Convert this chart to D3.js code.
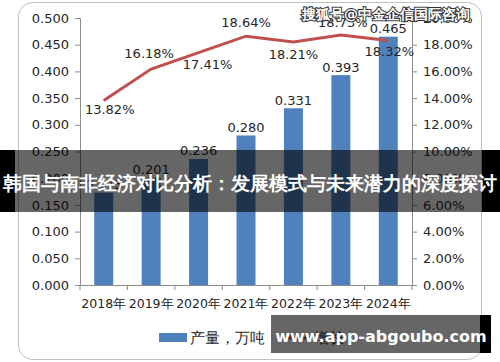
<!DOCTYPE html>
<html>
<head>
<meta charset="utf-8">
<script src="https://cdn.jsdelivr.net/npm/d3@7"></script>
<style>
  body { margin: 0; background: #fff; }
  svg { display: block; }
  text { font-family: "DejaVu Sans", sans-serif; }
</style>
</head>
<body>
<svg id="chart" width="500" height="362"></svg>
<script>
// data
var years = ["2018年", "2019年", "2020年", "2021年", "2022年", "2023年", "2024年"];
var output = [0.173, 0.201, 0.236, 0.280, 0.331, 0.393, 0.465];
var growth = [0.1382, 0.1618, 0.1741, 0.1864, 0.1821, 0.1873, 0.1832];
var leftTicks = [0, 0.05, 0.1, 0.15, 0.2, 0.25, 0.3, 0.35, 0.4, 0.45, 0.5];
var rightTicks = [0, 0.02, 0.04, 0.06, 0.08, 0.1, 0.12, 0.14, 0.16, 0.18, 0.2];
var legendNames = ["产量，万吨", "增长"];

// where each growth label sits relative to its point
var growthLabelOffset = [[6, 9], [-2, -15], [9, 12], [0, -14], [0, 13], [2, -12], [1, 11]];

var svg = d3.select("#chart");
var plotLeft = 80, plotRight = 412, plotTop = 18, plotBottom = 285;

// frame
svg.append("rect")
    .attr("x", 18.5).attr("y", 2.5)
    .attr("width", 463).attr("height", 357)
    .attr("rx", 14)
    .attr("fill", "#fff")
    .attr("stroke", "#bfbfbf");

var x = d3.scaleBand().domain(years).range([plotLeft, plotRight])
    .paddingInner(0.6).paddingOuter(0.3);
var y = d3.scaleLinear().domain([0, 0.5]).range([plotBottom, plotTop]);
var y2 = d3.scaleLinear().domain([0, 0.2]).range([plotBottom, plotTop]);

// axes
var yAxis = svg.append("g")
    .attr("transform", "translate(" + plotLeft + ",0)")
    .call(d3.axisLeft(y).tickValues(leftTicks).tickFormat(d3.format(".3f")).tickSize(5).tickPadding(6));
var yAxis2 = svg.append("g")
    .attr("transform", "translate(" + plotRight + ",0)")
    .call(d3.axisRight(y2).tickValues(rightTicks).tickFormat(d3.format(".2%")).tickSize(5).tickPadding(6));
var xAxis = svg.append("g")
    .attr("transform", "translate(0," + plotBottom + ")")
    .call(d3.axisBottom(x).tickSize(0).tickPadding(14));

// category boundary ticks on the x axis
var step = x.step();
xAxis.selectAll(".bound")
    .data(d3.range(years.length + 1))
    .enter().append("line")
    .attr("x1", function(i) { return plotLeft + i * step; })
    .attr("x2", function(i) { return plotLeft + i * step; })
    .attr("y1", 0).attr("y2", 5)
    .attr("stroke", "#8c8c8c");

[yAxis, yAxis2, xAxis].forEach(function(g) {
    g.select(".domain").attr("stroke", "#8c8c8c");
    g.selectAll(".tick line").attr("stroke", "#8c8c8c");
    g.selectAll("text")
        .attr("font-family", "DejaVu Sans, sans-serif")
        .attr("font-size", 13)
        .attr("fill", "#262626");
});
xAxis.selectAll("text").attr("font-size", 12.5);

// bars
svg.selectAll(".bar")
    .data(output)
    .enter().append("rect")
    .attr("x", function(d, i) { return x(years[i]); })
    .attr("y", function(d) { return y(d); })
    .attr("width", x.bandwidth())
    .attr("height", function(d) { return plotBottom - y(d); })
    .attr("fill", "#4f81bd");

svg.selectAll(".barlabel")
    .data(output)
    .enter().append("text")
    .attr("x", function(d, i) { return x(years[i]) + x.bandwidth() / 2; })
    .attr("y", function(d) { return y(d) - 8; })
    .attr("text-anchor", "middle")
    .attr("dominant-baseline", "central")
    .attr("font-size", 13)
    .attr("fill", "#262626")
    .text(function(d) { return d3.format(".3f")(d); });

// growth line
var cx = function(i) { return x(years[i]) + x.bandwidth() / 2; };
var line = d3.line()
    .x(function(d, i) { return cx(i); })
    .y(function(d) { return y2(d); });

svg.append("path")
    .datum(growth)
    .attr("d", line)
    .attr("fill", "none")
    .attr("stroke", "#c0504d")
    .attr("stroke-width", 3);

svg.selectAll(".growthlabel")
    .data(growth)
    .enter().append("text")
    .attr("x", function(d, i) { return cx(i) + growthLabelOffset[i][0]; })
    .attr("y", function(d, i) { return y2(d) + growthLabelOffset[i][1]; })
    .attr("text-anchor", "middle")
    .attr("dominant-baseline", "central")
    .attr("font-size", 13)
    .attr("fill", "#262626")
    .text(function(d) { return d3.format(".2%")(d); });

// legend
var legend = svg.append("g");
legend.append("rect")
    .attr("x", 159).attr("y", 333).attr("width", 28).attr("height", 9)
    .attr("fill", "#4f81bd");
legend.append("text")
    .attr("x", 190).attr("y", 338)
    .attr("dominant-baseline", "central")
    .attr("font-family", "Noto Sans CJK SC")
    .attr("font-size", 15)
    .attr("fill", "#262626")
    .text(legendNames[0]);
legend.append("line")
    .attr("x1", 285).attr("x2", 311).attr("y1", 338).attr("y2", 338)
    .attr("stroke", "#c0504d").attr("stroke-width", 3);
legend.append("text")
    .attr("x", 314).attr("y", 338)
    .attr("dominant-baseline", "central")
    .attr("font-family", "Noto Sans CJK SC")
    .attr("font-size", 15)
    .attr("fill", "#262626")
    .text(legendNames[1]);

// top watermark
svg.append("text")
    .attr("x", 470).attr("y", 14)
    .attr("text-anchor", "end")
    .attr("dominant-baseline", "central")
    .attr("font-family", "Noto Sans CJK SC")
    .attr("font-weight", "bold")
    .attr("font-size", 14)
    .attr("fill", "#fff")
    .attr("stroke", "#333")
    .attr("stroke-width", 2)
    .attr("paint-order", "stroke")
    .text("搜狐号@中金企信国际咨询");

// title banner
svg.append("rect").attr("x", 0).attr("y", 150).attr("width", 15).attr("height", 62).attr("fill", "#000");
svg.append("rect").attr("x", 482).attr("y", 150).attr("width", 18).attr("height", 62).attr("fill", "#000");
svg.append("rect").attr("x", 15).attr("y", 150).attr("width", 467).attr("height", 62).attr("fill", "rgba(0,0,0,0.6)");
svg.append("text")
    .attr("x", 250).attr("y", 183)
    .attr("text-anchor", "middle")
    .attr("dominant-baseline", "central")
    .attr("font-family", "Noto Sans CJK SC")
    .attr("font-weight", "bold")
    .attr("font-size", 19.4)
    .attr("fill", "#fff")
    .text("韩国与南非经济对比分析：发展模式与未来潜力的深度探讨");

// bottom watermark
svg.append("rect").attr("x", 480).attr("y", 315).attr("width", 11).attr("height", 38).attr("fill", "#000");
svg.append("rect").attr("x", 271).attr("y", 315).attr("width", 209).attr("height", 38).attr("fill", "rgba(0,0,0,0.6)");
svg.append("text")
    .attr("x", 381).attr("y", 336)
    .attr("text-anchor", "middle")
    .attr("dominant-baseline", "central")
    .attr("font-family", "DejaVu Sans")
    .attr("font-weight", "bold")
    .attr("font-size", 16)
    .attr("fill", "#fff")
    .text("www.app-abgoubo.com");
</script>
</body>
</html>
